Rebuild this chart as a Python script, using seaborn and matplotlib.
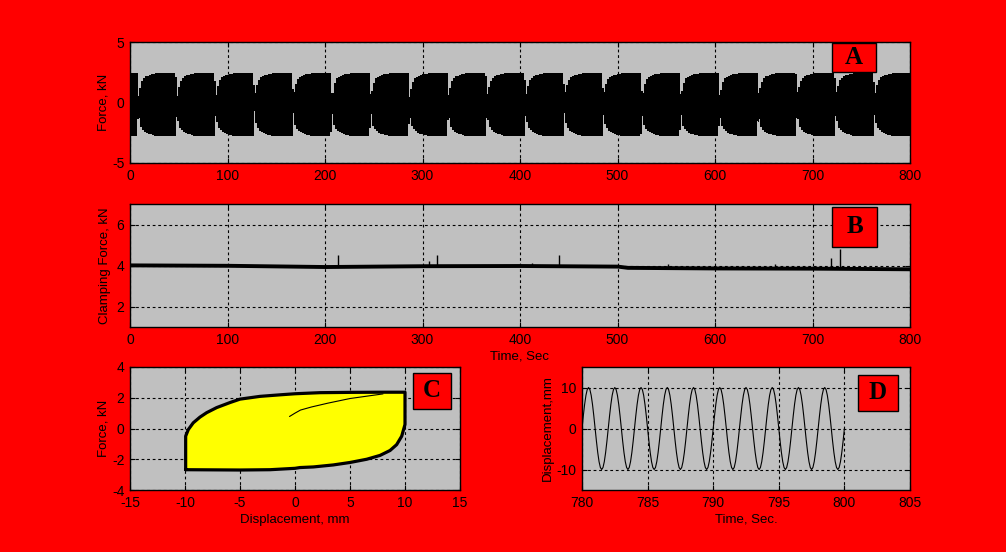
import numpy as np
import pandas as pd
import matplotlib
matplotlib.use("Agg")
import matplotlib.pyplot as plt
import seaborn as sns
from matplotlib.patches import Rectangle

# ---------------- data ----------------
# Panel C: hysteresis loop (displacement mm, force kN)
loop_up_x = [-9.94, -9.94, -9.7, -9.25, -8.64, -8.03, -7.12, -5.9, -5.0, -3.18, -1.36, 0.0, 2.27, 5.0, 8.0, 10.0]
loop_up_y = [-2.68, -0.5, -0.07, 0.37, 0.74, 1.03, 1.36, 1.69, 1.91, 2.09, 2.19, 2.26, 2.33, 2.35, 2.36, 2.36]
loop_dn_x = [10.0, 10.0, 9.7, 9.24, 8.64, 7.73, 6.52, 5.0, 3.48, 1.67, 0.45, 0.0, -2.27, -5.0, -9.94]
loop_dn_y = [2.36, 0.26, -0.5, -1.05, -1.43, -1.75, -2.0, -2.21, -2.37, -2.5, -2.54, -2.59, -2.68, -2.7, -2.68]
virgin_x = [-0.5, 0.0, 0.5, 1.5, 3.0, 5.0, 6.5, 8.0]
virgin_y = [0.78, 1.0, 1.2, 1.4, 1.65, 1.95, 2.1, 2.25]

# Panel A / D: cyclic test parameters
stroke_amp = 10.0          # mm
test_freq = 0.5            # Hz
sample_dt = 1.0258         # s, logged sample interval of the force record
phase_A = -0.63            # rad
transition_shape = 1.5     # how quickly force reverses after a stroke reversal
t_end = 800.0

# Panel B: clamping force trend (band centre) and spikes
clamp_t = [0, 100, 200, 300, 400, 500, 510, 600, 700, 800]
clamp_mid = [4.03, 4.01, 3.95, 3.99, 4.0, 3.97, 3.91, 3.88, 3.87, 3.84]
clamp_half = 0.095
spike_t = [213, 307, 315, 412, 440, 552, 662, 719, 728]
spike_top = [4.53, 4.2, 4.53, 4.12, 4.53, 4.08, 4.08, 4.37, 4.8]

# Panel D: time window
D_t0, D_t1 = 780.0, 800.0
D_dt = 0.1

# tick values
A_yticks = [-5, 0, 5]
B_yticks = [2, 4, 6]
T_xticks = list(range(0, 801, 100))
C_xticks = [-15, -10, -5, 0, 5, 10, 15]
C_yticks = [-4, -2, 0, 2, 4]
D_xticks = [780, 785, 790, 795, 800, 805]
D_yticks = [-10, 0, 10]

# ---------------- build signals ----------------
gap = 0.02
ux = np.array(loop_up_x[1:]); dx = np.array(loop_dn_x[1:])
th_up = np.pi * gap + np.pi * (1 - 2 * gap) * ((ux + stroke_amp) / (2 * stroke_amp)) ** transition_shape
th_dn = np.pi * (1 + gap) + np.pi * (1 - 2 * gap) * ((stroke_amp - dx) / (2 * stroke_amp)) ** transition_shape
th_up[-1] = np.pi * (1 - gap)
th_dn[-1] = 2 * np.pi * (1 - gap / 2)
th_v = np.concatenate([th_up, th_dn])
F_v = np.concatenate([loop_up_y[1:], loop_dn_y[1:]])

tA = np.arange(0, t_end + sample_dt / 2, sample_dt)
thA = np.mod(2 * np.pi * test_freq * tA + phase_A, 2 * np.pi)
FA = np.interp(thA, th_v, F_v, period=2 * np.pi)
dfA = pd.DataFrame({"t": tA, "F": FA})

tD = np.arange(D_t0, D_t1 + D_dt / 2, D_dt)
dD = stroke_amp * np.sin(2 * np.pi * test_freq * (tD - D_t0))
dfD = pd.DataFrame({"t": tD, "d": dD})

loop_x = loop_up_x + loop_dn_x[1:]
loop_y = loop_up_y + loop_dn_y[1:]

# ---------------- style ----------------
sns.set_style("white")
plt.rcParams.update({
    "font.family": ["Liberation Sans", "DejaVu Sans"],
    "font.size": 9.5,
    "axes.unicode_minus": False,
    "axes.facecolor": "#c0c0c0",
    "figure.facecolor": "#ff0000",
    "axes.edgecolor": "black",
    "axes.linewidth": 1.0,
    "xtick.color": "black", "ytick.color": "black",
    "xtick.direction": "in", "ytick.direction": "in",
    "xtick.major.size": 3.5, "ytick.major.size": 3.5,
    "xtick.top": True, "ytick.right": True,
    "xtick.bottom": True, "ytick.left": True,
    "text.color": "black", "axes.labelcolor": "black",
    "path.simplify": False,
})

W, H = 1006, 552
fig = plt.figure(figsize=(W / 100, H / 100), dpi=100)
fig.patch.set_facecolor("#ff0000")


def mkax(l, t, r, b):
    return fig.add_axes([l / W, 1 - b / H, (r - l) / W, (b - t) / H])


axA = mkax(130, 42, 910, 163)
axB = mkax(130, 204, 910, 327)
axC = mkax(130, 367, 460, 490)
axD = mkax(582, 367, 910, 490)


def style(ax):
    ax.grid(True, color="black", linestyle=(0, (2.5, 2.5)), linewidth=0.8)
    ax.set_axisbelow(True)
    for s in ax.spines.values():
        s.set_color("black"); s.set_linewidth(1.0); s.set_zorder(5)
    ax.tick_params(labelsize=10, pad=4, width=0.8)


def letter(ax, ch, x0, y0, w, h):
    ax.add_patch(Rectangle((x0, y0), w, h, transform=ax.transAxes, facecolor="#ff0000",
                           edgecolor="black", linewidth=1.0, zorder=10, clip_on=False))
    ax.text(x0 + w / 2, y0 + h / 2, ch, transform=ax.transAxes, ha="center", va="center",
            fontsize=18, fontweight="bold", family=["Liberation Serif", "DejaVu Serif"], zorder=11)


# Panel A
sns.lineplot(data=dfA, x="t", y="F", ax=axA, color="black", linewidth=0.7,
             estimator=None, sort=False, antialiased=False)
axA.set_xlim(0, 800); axA.set_ylim(-5, 5)
axA.set_xticks(T_xticks); axA.set_yticks(A_yticks)
axA.set_xlabel(""); axA.set_ylabel("Force, kN", labelpad=2)
style(axA)
letter(axA, "A", 0.900, 0.755, 0.0565, 0.235)

# Panel B
axB.fill_between(clamp_t, np.array(clamp_mid) - clamp_half, np.array(clamp_mid) + clamp_half,
                 color="black", linewidth=0, zorder=3)
axB.vlines(spike_t, np.interp(spike_t, clamp_t, clamp_mid), spike_top, color="black",
           linewidth=1.0, zorder=3)
axB.set_xlim(0, 800); axB.set_ylim(1, 7)
axB.set_xticks(T_xticks); axB.set_yticks(B_yticks)
axB.set_xlabel("Time, Sec", labelpad=3); axB.set_ylabel("Clamping Force, kN", labelpad=4)
style(axB)
letter(axB, "B", 0.900, 0.652, 0.0577, 0.326)

# Panel C
axC.fill(loop_x, loop_y, color="#ffff00", zorder=2, linewidth=0)
sns.lineplot(x=loop_x, y=loop_y, ax=axC, color="black", linewidth=2.3, estimator=None,
             sort=False, zorder=4)
sns.lineplot(x=virgin_x, y=virgin_y, ax=axC, color="black", linewidth=0.8, estimator=None,
             sort=False, zorder=4)
axC.set_xlim(-15, 15); axC.set_ylim(-4, 4)
axC.set_xticks(C_xticks); axC.set_yticks(C_yticks)
axC.set_xlabel("Displacement, mm", labelpad=3); axC.set_ylabel("Force, kN", labelpad=2)
style(axC)
letter(axC, "C", 0.858, 0.660, 0.115, 0.294)

# Panel D
sns.lineplot(data=dfD, x="t", y="d", ax=axD, color="black", linewidth=0.8,
             estimator=None, sort=False)
axD.set_xlim(780, 805); axD.set_ylim(-15, 15)
axD.set_xticks(D_xticks); axD.set_yticks(D_yticks)
axD.set_xlabel("Time, Sec.", labelpad=3); axD.set_ylabel("Displacement,mm", labelpad=2)
style(axD)
letter(axD, "D", 0.841, 0.644, 0.122, 0.293)

fig.savefig("out.png", dpi=100, facecolor=fig.get_facecolor())
